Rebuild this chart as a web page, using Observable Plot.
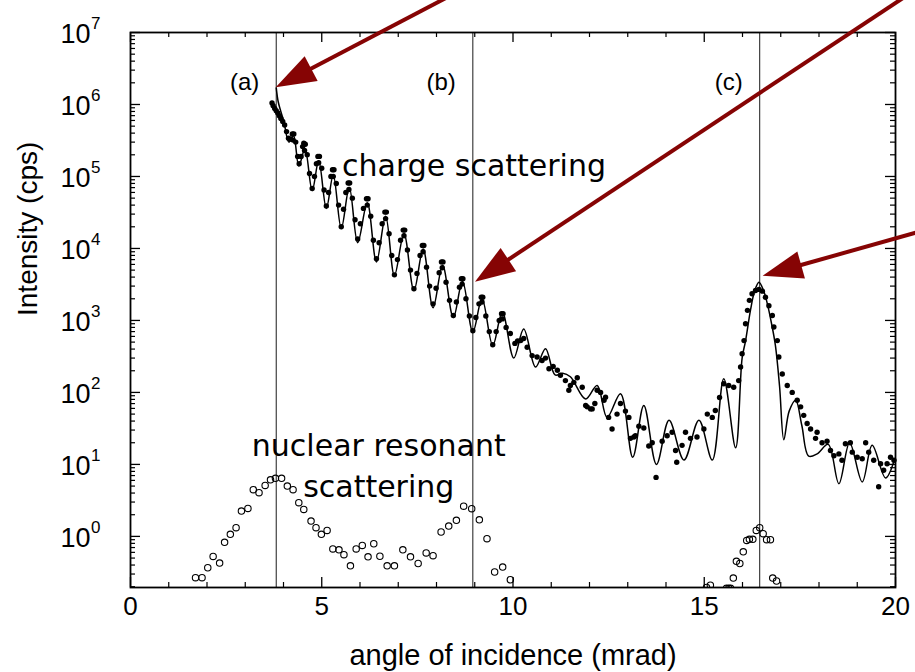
<!DOCTYPE html>
<html><head><meta charset="utf-8">
<script src="https://cdn.jsdelivr.net/npm/d3@7"></script>
<script src="https://cdn.jsdelivr.net/npm/@observablehq/plot@0.6"></script>
<style>
html,body{margin:0;padding:0;background:#fff;}
#chart{width:915px;height:672px;}
g[aria-label="x-tick-labels"] text{letter-spacing:1.6px;}
g[aria-label="y-tick-base"] text{letter-spacing:1.2px;}
g[aria-label="x-title"] text{letter-spacing:1.2px;}
</style>
</head><body><div id="chart"></div>
<script>
// ---- data ----
const xTicks = [0, 5, 10, 15, 20];
const xTickLabels = ["0", "5", "10", "15", "20"];
const xMinorTicks = [1, 2, 3, 4, 6, 7, 8, 9, 11, 12, 13, 14, 16, 17, 18, 19];
const yTicks = [1, 10, 100, 1000, 1e4, 1e5, 1e6, 1e7];
const yTickExp = ["0", "1", "2", "3", "4", "5", "6", "7"];
const yMinorTicks = yTicks.flatMap(d => [2,3,4,5,6,7,8,9].map(k => k * d / 10)).filter(v => v >= 0.195 && v < 1e7 && !yTicks.includes(v));

const markerX = [3.81, 8.95, 16.45];
const markerLabels = ["(a)", "(b)", "(c)"];

// charge scattering: measured points (filled dots)
const chargeX = [3.70,3.73,3.77,3.81,3.85,3.89,3.93,3.98,4.03,4.08,4.13,4.19,4.23,4.27,4.25,4.32,4.37,4.41,4.46,4.50,4.53,4.57,4.55,4.62,4.68,4.75,4.81,4.86,4.90,4.94,4.92,5.00,5.06,5.12,5.18,5.24,5.28,5.32,5.30,5.38,5.44,5.51,5.57,5.63,5.69,5.73,5.71,5.80,5.87,5.94,6.01,6.09,6.17,6.21,6.19,6.28,6.35,6.43,6.50,6.58,6.65,6.69,6.67,6.76,6.83,6.90,6.98,7.06,7.13,7.17,7.15,7.24,7.32,7.41,7.49,7.57,7.63,7.67,7.65,7.74,7.82,7.91,7.99,8.07,8.13,8.17,8.15,8.25,8.34,8.44,8.52,8.60,8.65,8.69,8.67,8.77,8.86,8.95,9.03,9.11,9.17,9.21,9.19,9.29,9.38,9.47,9.56,9.64,9.70,9.74,9.72,9.82,9.93,10.05,10.12,10.20,10.28,10.37,10.50,10.63,10.76,10.85,10.94,11.05,11.16,11.24,11.37,11.46,11.50,11.59,11.68,11.81,11.90,11.94,12.03,12.07,12.14,12.20,12.29,12.38,12.42,12.50,12.59,12.72,12.81,12.94,13.03,13.07,13.16,13.20,13.29,13.42,13.55,13.64,13.74,13.90,14.03,14.16,14.25,14.28,14.42,14.51,14.64,14.81,14.99,15.08,15.21,15.29,15.40,15.51,15.64,15.77,15.90,15.95,15.99,16.04,16.08,16.13,16.18,16.25,16.34,16.43,16.52,16.60,16.69,16.78,16.82,16.91,16.95,17.04,17.17,17.30,17.43,17.52,17.60,17.69,17.78,17.91,17.95,18.08,18.21,18.30,18.39,18.52,18.60,18.69,18.82,18.87,19.00,19.13,19.22,19.30,19.43,19.56,19.61,19.69,19.78,19.87,19.96];
const chargeY = [1.05e6,9.6e5,8.8e5,8.2e5,7.6e5,7.0e5,6.4e5,5.8e5,5.2e5,4.2e5,3.4e5,3.3e5,3.9e5,3.9e5,3.2e5,3.0e5,1.9e5,1.5e5,1.9e5,2.6e5,2.9e5,2.8e5,2.3e5,2.0e5,1.1e5,6.8e4,1.0e5,1.5e5,1.9e5,1.9e5,1.55e5,1.3e5,6.5e4,3.9e4,6.0e4,1.0e5,1.24e5,1.24e5,1.0e5,8.0e4,4.0e4,2.0e4,3.5e4,6.0e4,8.1e4,8.1e4,6.6e4,5.0e4,2.5e4,1.35e4,2.2e4,3.6e4,4.9e4,4.9e4,4.0e4,2.8e4,1.3e4,7.2e3,1.2e4,2.2e4,3.2e4,3.2e4,2.6e4,1.6e4,8.0e3,4.3e3,7.0e3,1.3e4,1.8e4,1.8e4,1.5e4,9.5e3,5.0e3,2.75e3,4.5e3,8.0e3,1.1e4,1.1e4,9.0e3,5.5e3,3.0e3,1.7e3,2.8e3,4.6e3,6.5e3,6.5e3,5.4e3,3.4e3,1.9e3,1.17e3,1.8e3,2.9e3,3.8e3,3.8e3,3.2e3,2.0e3,1.15e3,720,1.1e3,1.7e3,2.1e3,2.1e3,1.8e3,1.15e3,700,460,700,1.0e3,1.24e3,1.24e3,1.05e3,800,660,480,520,525,560,425,325,310,277,300,213,230,203,173,146,107,125,138,160,118,66,63,59,59,70,107,100,78,86,45,31,50,70,55,45,23,24,25,34,32,18,20,6.6,21,25,28,15.6,10.7,18.4,28,23,24,31,50,45,56,85,132,125,118,146,225,345,525,900,1380,1900,2350,2600,2700,2550,2100,1600,1170,810,525,310,180,125,100,78,63,48,37,31,23,28,20,21,15.6,13.2,14,11.4,19.4,20,14.8,12.6,12,20,14.8,11.4,4.9,10.2,8.3,10.2,12.6,11.4];

// charge scattering: fitted curve (solid line)
const fitX = [3.81,3.86,3.93,4.01,4.14,4.26,4.40,4.56,4.75,4.92,5.12,5.30,5.51,5.72,5.94,6.19,6.43,6.67,6.90,7.15,7.41,7.65,7.91,8.16,8.44,8.68,8.95,9.19,9.47,9.72,10.02,10.28,10.59,10.85,11.10,11.30,11.50,11.90,12.20,12.46,12.81,13.13,13.42,13.75,14.08,14.47,14.86,15.21,15.51,15.82,15.99,16.08,16.21,16.32,16.43,16.55,16.65,16.76,16.86,16.97,17.08,17.22,17.39,17.55,17.73,17.95,18.24,18.52,18.80,19.13,19.39,19.74,19.98];
const fitY = [1.7e6,1.1e6,8.0e5,5.8e5,3.0e5,3.7e5,1.4e5,2.4e5,6.4e4,1.65e5,3.6e4,1.05e5,1.9e4,7.0e4,1.2e4,4.3e4,6.5e3,2.8e4,4.2e3,1.6e4,2.6e3,9.8e3,1.5e3,5.8e3,1.1e3,3.5e3,690,2.0e3,450,1.3e3,300,760,225,405,175,185,165,81,125,45,96,12.6,66,10,41,11.5,41,11.5,155,17,300,520,1400,2600,3400,2600,1700,900,450,120,22,55,78,35,13,14,19,5.4,20,5.7,18.4,6.5,12];

// nuclear resonant scattering (open circles)
const nuclearX = [1.70,1.87,2.02,2.16,2.33,2.46,2.61,2.76,2.90,3.07,3.21,3.36,3.52,3.66,3.79,3.95,4.10,4.25,4.40,4.53,4.72,4.85,4.99,5.14,5.29,5.45,5.58,5.75,5.90,6.06,6.21,6.36,6.52,6.71,6.90,7.12,7.32,7.52,7.73,7.91,8.12,8.32,8.52,8.71,8.92,9.12,9.32,9.52,9.73,9.93,15.06,15.16,15.58,15.64,15.69,15.76,15.84,15.93,16.02,16.11,16.18,16.27,16.36,16.45,16.54,16.63,16.73,16.79,16.89];
const nuclearY = [0.267,0.267,0.367,0.527,0.426,0.826,1.07,1.32,2.25,2.45,4.45,4.05,5.1,6.1,6.4,6.4,5.0,4.45,2.94,2.37,1.63,1.32,1.07,1.21,0.67,0.65,0.557,0.39,0.67,0.75,0.52,0.79,0.53,0.39,0.39,0.65,0.52,0.42,0.59,0.54,1.15,1.39,1.67,2.63,2.43,1.70,0.93,0.32,0.375,0.25,0.195,0.21,0.19,0.19,0.19,0.264,0.45,0.42,0.61,0.88,0.91,0.91,1.21,1.32,1.09,0.90,0.90,0.264,0.24];

// annotations
const chargeLabel = ["charge scattering"];
const chargeLabelX = [5.53], chargeLabelY = [1.03e5];
const nuclearLabel = ["nuclear resonant\nscattering"];
const nuclearLabelX = [6.49], nuclearLabelY = [3.5];
const arrowTipX = [3.81, 9.02, 16.54];
const arrowTipY = [1.71e6, 3.4e3, 4.1e3];
const arrowFromX = [8.41, 20.33, 20.78];
const arrowFromY = [3.27e7, 3.27e7, 1.77e4];

// ---- layout ----
const W = 915, H = 672, mL = 130, mR = 20, mT = 32, mB = 85;
const frameW = W - mL - mR, frameH = H - mT - mB;
const sans = "'Liberation Sans', Arial, Helvetica, sans-serif";
const annoFont = "'DejaVu Sans', Verdana, sans-serif";

const chart = Plot.plot({
  width: W, height: H,
  marginLeft: mL, marginRight: mR, marginTop: mT, marginBottom: mB,
  style: {fontFamily: sans, background: "white", color: "black"},
  x: {domain: [0, 20], axis: null},
  y: {type: "log", domain: [0.195, 1e7], axis: null},
  marks: [
    Plot.ruleX(markerX, {x: d => d, stroke: "#1a1a1a", strokeWidth: 1}),
    Plot.tickX(xMinorTicks, {x: d => d, insetTop: frameH - 5, stroke: "black", strokeWidth: 1.2}),
    Plot.tickX(xMinorTicks, {x: d => d, insetBottom: frameH - 5, stroke: "black", strokeWidth: 1.2}),
    Plot.tickX(xTicks, {x: d => d, insetTop: frameH - 10, stroke: "black", strokeWidth: 1.3}),
    Plot.tickX(xTicks, {x: d => d, insetBottom: frameH - 10, stroke: "black", strokeWidth: 1.3}),
    Plot.tickY(yMinorTicks, {y: d => d, insetRight: frameW - 5, stroke: "black", strokeWidth: 1.2}),
    Plot.tickY(yMinorTicks, {y: d => d, insetLeft: frameW - 5, stroke: "black", strokeWidth: 1.2}),
    Plot.tickY(yTicks, {y: d => d, insetRight: frameW - 10, stroke: "black", strokeWidth: 1.3}),
    Plot.tickY(yTicks, {y: d => d, insetLeft: frameW - 10, stroke: "black", strokeWidth: 1.3}),
    Plot.line(fitX, {x: fitX, y: fitY, curve: "catmull-rom", stroke: "black", strokeWidth: 1.5}),
    Plot.dot(chargeX, {x: chargeX, y: chargeY, r: 2.7, fill: "black"}),
    Plot.dot(nuclearX, {x: nuclearX, y: nuclearY, r: 3.2, stroke: "black", strokeWidth: 1.1, fill: "none", clip: true}),
    Plot.frame({stroke: "black", strokeWidth: 1.8}),
    Plot.text(xTickLabels, {x: xTicks, text: d => d, frameAnchor: "bottom", dy: 27, fontSize: 26, fill: "black", ariaLabel: "x-tick-labels"}),
    Plot.text(yTicks, {y: d => d, text: () => "10", frameAnchor: "left", dx: -40, dy: 2, textAnchor: "end", fontSize: 27, fill: "black", ariaLabel: "y-tick-base"}),
    Plot.text(yTickExp, {y: (d, i) => yTicks[i], text: d => d, frameAnchor: "left", dx: -39.5, dy: -9, textAnchor: "start", fontSize: 17, fill: "black"}),
    Plot.text(["angle of incidence (mrad)"], {frameAnchor: "bottom", dy: 77, lineAnchor: "bottom", fontSize: 29, fill: "black", ariaLabel: "x-title"}),
    Plot.text(["Intensity (cps)"], {frameAnchor: "left", dx: -102, dy: 6, rotate: -90, fontSize: 28, fill: "black"}),
    Plot.text(markerLabels, {x: markerX, text: d => d, frameAnchor: "top", dy: 40, dx: -17, textAnchor: "end", fontSize: 24, fill: "black"}),
    Plot.text(chargeLabel, {x: chargeLabelX, y: chargeLabelY, text: d => d, textAnchor: "start", lineAnchor: "bottom", fontFamily: annoFont, fontSize: 30, fill: "black"}),
    Plot.text(nuclearLabel, {x: nuclearLabelX, y: nuclearLabelY, text: d => d, textAnchor: "middle", lineAnchor: "bottom", lineHeight: 1.39, fontFamily: annoFont, fontSize: 30, fill: "black"})
  ]
});

// ---- red annotation arrows, positioned through the chart's own scales ----
const xs = chart.scale("x"), ys = chart.scale("y");
const fx = xs.apply ? v => xs.apply(v) : d3.scaleLinear(xs.domain, xs.range);
const fy = ys.apply ? v => ys.apply(v) : d3.scaleLog(ys.domain, ys.range);
const arrowColor = "#860404";
const gA = d3.select(chart).append("g").attr("aria-label", "arrows");
arrowTipX.forEach((tx, i) => {
  const x1 = fx(arrowFromX[i]), y1 = fy(arrowFromY[i]);
  const x2 = fx(tx), y2 = fy(arrowTipY[i]);
  const dx = x1 - x2, dy = y1 - y2, len = Math.hypot(dx, dy);
  const ux = dx / len, uy = dy / len;
  const headL = 40, headW = 14;
  const bx = x2 + ux * headL, by = y2 + uy * headL;
  gA.append("line")
    .attr("x1", x1).attr("y1", y1).attr("x2", bx - ux * 2).attr("y2", by - uy * 2)
    .attr("stroke", arrowColor).attr("stroke-width", 4);
  gA.append("path")
    .attr("d", `M${x2},${y2}L${bx - uy * headW},${by + ux * headW}L${bx + uy * headW},${by - ux * headW}Z`)
    .attr("fill", arrowColor);
});

document.getElementById("chart").append(chart);
</script></body></html>
